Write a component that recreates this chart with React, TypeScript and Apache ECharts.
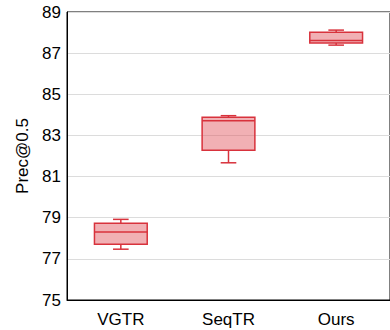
import React, { useEffect, useRef } from "react";
import * as echarts from "echarts";

const categories = ["VGTR", "SeqTR", "Ours"];
const mins = [77.47, 81.67, 87.39];
const q1s = [77.71, 82.28, 87.49];
const medians = [78.31, 83.71, 87.62];
const q3s = [78.73, 83.88, 88.01];
const maxs = [78.92, 83.96, 88.12];
const yTicks = [75, 77, 79, 81, 83, 85, 87, 89];

const RED = "#d8323c";
const FILL = "rgba(225, 80, 88, 0.45)";

export default function App() {
  const ref = useRef<HTMLDivElement>(null);
  useEffect(() => {
    if (!ref.current) return;
    const chart = echarts.init(ref.current, undefined, { renderer: "svg" });
    const data = categories.map((_, i) => [i, mins[i], q1s[i], medians[i], q3s[i], maxs[i]]);
    chart.setOption({
      animation: false,
      grid: {
        left: 67,
        top: 12,
        width: 330,
        height: 288,
        show: true,
        borderColor: "#000",
        borderWidth: 1,
        backgroundColor: "transparent",
      },
      xAxis: {
        type: "category",
        data: categories,
        axisLine: { show: true, lineStyle: { color: "#000", width: 1 } },
        axisTick: { show: false },
        axisLabel: {
          color: "#000",
          fontFamily: "Liberation Sans, Arial, sans-serif",
          fontSize: 17,
          margin: 11,
        },
      },
      yAxis: {
        type: "value",
        min: yTicks[0],
        max: yTicks[yTicks.length - 1],
        interval: 2,
        name: "Prec@0.5",
        nameLocation: "middle",
        nameGap: 36,
        nameRotate: 90,
        nameTextStyle: {
          color: "#000",
          fontFamily: "Liberation Sans, Arial, sans-serif",
          fontSize: 17,
        },
        axisLine: { show: true, lineStyle: { color: "#000", width: 1 } },
        axisTick: { show: false },
        splitLine: { show: true, lineStyle: { color: "#dcdcdc", width: 1 } },
        axisLabel: {
          color: "#000",
          fontFamily: "Liberation Sans, Arial, sans-serif",
          fontSize: 17,
          margin: 6,
        },
      },
      series: [
        {
          type: "custom",
          data,
          encode: { x: 0, y: [1, 2, 3, 4, 5] },
          renderItem: (params: any, api: any) => {
            const idx = api.value(0);
            const vMin = api.value(1);
            const vQ1 = api.value(2);
            const vMed = api.value(3);
            const vQ3 = api.value(4);
            const vMax = api.value(5);
            const band = api.size([1, 0])[0];
            const boxW = band * 0.49;
            const capW = band * 0.145;
            const pMin = api.coord([idx, vMin]);
            const pQ1 = api.coord([idx, vQ1]);
            const pMed = api.coord([idx, vMed]);
            const pQ3 = api.coord([idx, vQ3]);
            const pMax = api.coord([idx, vMax]);
            const cx = pMed[0];
            const lineStyle = { stroke: RED, lineWidth: 1.5, fill: null };
            return {
              type: "group",
              children: [
                {
                  type: "line",
                  shape: { x1: cx, y1: pMax[1], x2: cx, y2: pQ3[1] },
                  style: lineStyle,
                },
                {
                  type: "line",
                  shape: { x1: cx, y1: pQ1[1], x2: cx, y2: pMin[1] },
                  style: lineStyle,
                },
                {
                  type: "line",
                  shape: { x1: cx - capW / 2, y1: pMax[1], x2: cx + capW / 2, y2: pMax[1] },
                  style: lineStyle,
                },
                {
                  type: "line",
                  shape: { x1: cx - capW / 2, y1: pMin[1], x2: cx + capW / 2, y2: pMin[1] },
                  style: lineStyle,
                },
                {
                  type: "rect",
                  shape: { x: cx - boxW / 2, y: pQ3[1], width: boxW, height: pQ1[1] - pQ3[1] },
                  style: { fill: FILL, stroke: RED, lineWidth: 1.5 },
                },
                {
                  type: "line",
                  shape: { x1: cx - boxW / 2, y1: pMed[1], x2: cx + boxW / 2, y2: pMed[1] },
                  style: lineStyle,
                },
              ],
            };
          },
        },
      ],
    });
    return () => chart.dispose();
  }, []);
  return (
    <div
      ref={ref}
      style={{ position: "fixed", left: 0, top: 0, width: 390, height: 330, background: "#fff" }}
    />
  );
}
